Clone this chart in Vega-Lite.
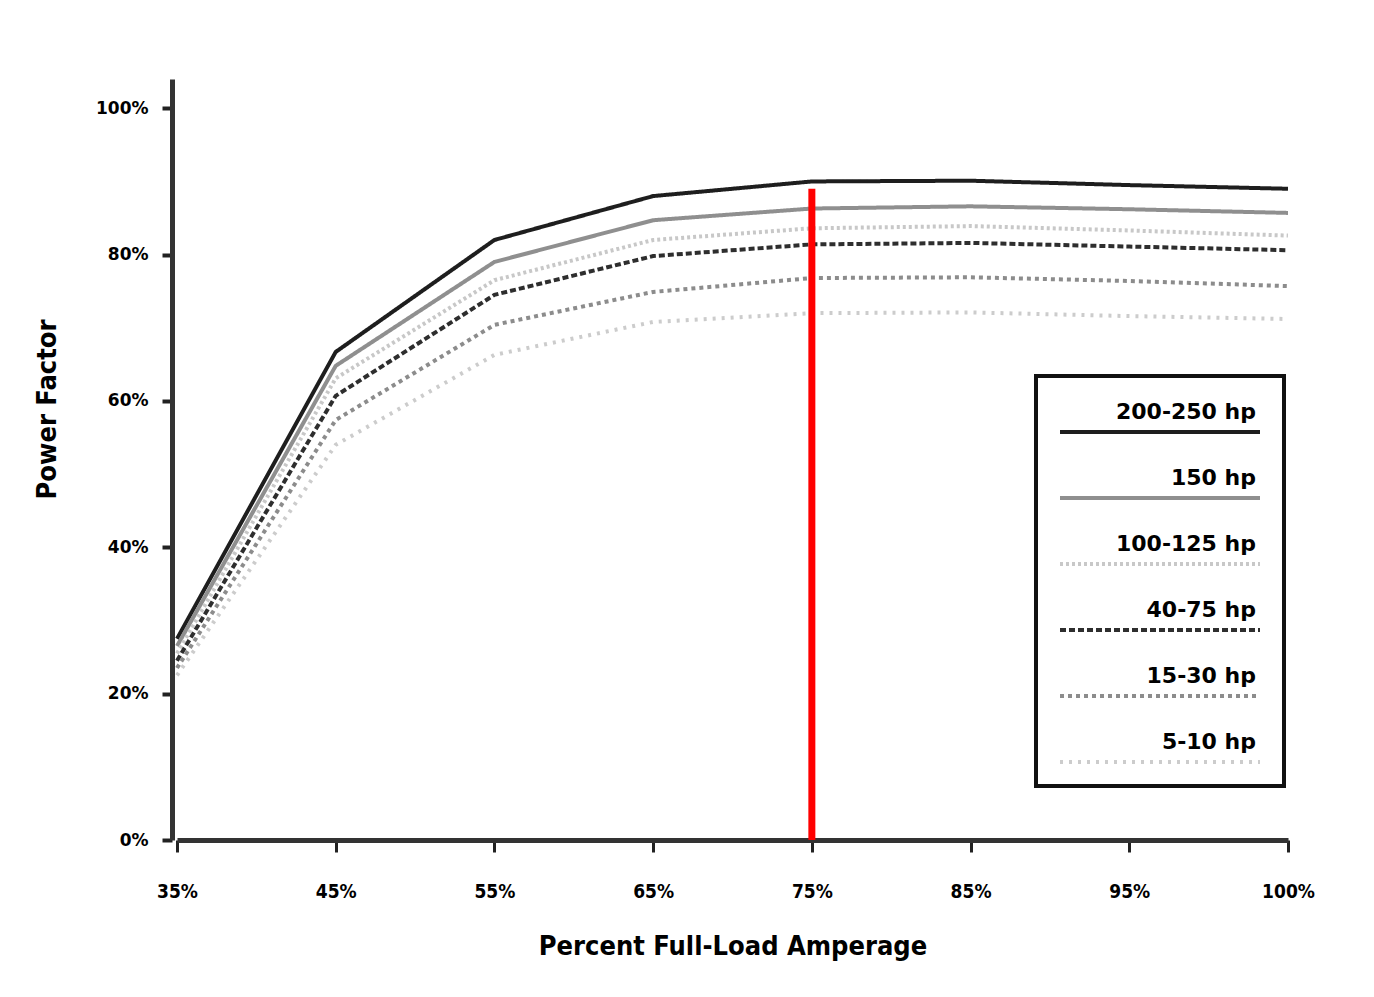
{
  "$schema": "https://vega.github.io/schema/vega-lite/v6.json",
  "autosize": "none",
  "width": 1111,
  "height": 761,
  "padding": {"left": 177, "top": 79, "right": 86, "bottom": 157},
  "background": "white",
  "config": {
    "view": {"stroke": null},
    "axis": {"grid": false}
  },
  "datasets": {
    "curves": [
      {"load": "35%", "motor": "200-250 hp", "pf": 27.5},
      {"load": "45%", "motor": "200-250 hp", "pf": 66.7},
      {"load": "55%", "motor": "200-250 hp", "pf": 82.0},
      {"load": "65%", "motor": "200-250 hp", "pf": 88.0},
      {"load": "75%", "motor": "200-250 hp", "pf": 90.0},
      {"load": "85%", "motor": "200-250 hp", "pf": 90.1},
      {"load": "95%", "motor": "200-250 hp", "pf": 89.5},
      {"load": "100%", "motor": "200-250 hp", "pf": 89.0},
      {"load": "35%", "motor": "150 hp", "pf": 26.5},
      {"load": "45%", "motor": "150 hp", "pf": 64.8},
      {"load": "55%", "motor": "150 hp", "pf": 79.0},
      {"load": "65%", "motor": "150 hp", "pf": 84.7},
      {"load": "75%", "motor": "150 hp", "pf": 86.3},
      {"load": "85%", "motor": "150 hp", "pf": 86.6},
      {"load": "95%", "motor": "150 hp", "pf": 86.2},
      {"load": "100%", "motor": "150 hp", "pf": 85.7},
      {"load": "35%", "motor": "100-125 hp", "pf": 25.5},
      {"load": "45%", "motor": "100-125 hp", "pf": 63.1},
      {"load": "55%", "motor": "100-125 hp", "pf": 76.5},
      {"load": "65%", "motor": "100-125 hp", "pf": 82.0},
      {"load": "75%", "motor": "100-125 hp", "pf": 83.6},
      {"load": "85%", "motor": "100-125 hp", "pf": 83.9},
      {"load": "95%", "motor": "100-125 hp", "pf": 83.3},
      {"load": "100%", "motor": "100-125 hp", "pf": 82.6},
      {"load": "35%", "motor": "40-75 hp", "pf": 24.5},
      {"load": "45%", "motor": "40-75 hp", "pf": 60.7},
      {"load": "55%", "motor": "40-75 hp", "pf": 74.5},
      {"load": "65%", "motor": "40-75 hp", "pf": 79.8},
      {"load": "75%", "motor": "40-75 hp", "pf": 81.4},
      {"load": "85%", "motor": "40-75 hp", "pf": 81.6},
      {"load": "95%", "motor": "40-75 hp", "pf": 81.1},
      {"load": "100%", "motor": "40-75 hp", "pf": 80.6},
      {"load": "35%", "motor": "15-30 hp", "pf": 23.5},
      {"load": "45%", "motor": "15-30 hp", "pf": 57.4},
      {"load": "55%", "motor": "15-30 hp", "pf": 70.4},
      {"load": "65%", "motor": "15-30 hp", "pf": 74.9},
      {"load": "75%", "motor": "15-30 hp", "pf": 76.8},
      {"load": "85%", "motor": "15-30 hp", "pf": 76.9},
      {"load": "95%", "motor": "15-30 hp", "pf": 76.4},
      {"load": "100%", "motor": "15-30 hp", "pf": 75.7},
      {"load": "35%", "motor": "5-10 hp", "pf": 22.5},
      {"load": "45%", "motor": "5-10 hp", "pf": 54.0},
      {"load": "55%", "motor": "5-10 hp", "pf": 66.3},
      {"load": "65%", "motor": "5-10 hp", "pf": 70.8},
      {"load": "75%", "motor": "5-10 hp", "pf": 72.0},
      {"load": "85%", "motor": "5-10 hp", "pf": 72.1},
      {"load": "95%", "motor": "5-10 hp", "pf": 71.6},
      {"load": "100%", "motor": "5-10 hp", "pf": 71.2}
    ],
    "marker": [
      {"load": "75%", "top": 89, "bottom": 0}
    ]
  },
  "layer": [
    {
      "data": {"name": "curves"},
      "mark": {"type": "line", "strokeWidth": 4},
      "encoding": {
        "x": {
          "field": "load",
          "type": "ordinal",
          "scale": {"type": "point", "padding": 0, "domain": ["35%", "45%", "55%", "65%", "75%", "85%", "95%", "100%"]},
          "axis": {
            "title": "Percent Full-Load Amperage",
            "titleFont": "DejaVu Sans Condensed, DejaVu Sans, sans-serif",
            "titleFontSize": 27,
            "titleFontWeight": "bold",
            "titleColor": "black",
            "titlePadding": 32,
            "labelFont": "DejaVu Sans Condensed, DejaVu Sans, sans-serif",
            "labelFontSize": 19,
            "labelFontWeight": "bold",
            "labelColor": "black",
            "labelAngle": 0,
            "labelPadding": 30,
            "domainColor": "#333",
            "domainWidth": 5,
            "tickColor": "#222",
            "tickWidth": 3,
            "tickSize": 12
          }
        },
        "y": {
          "field": "pf",
          "type": "quantitative",
          "scale": {"domain": [0, 104], "nice": false},
          "axis": {
            "title": "Power Factor",
            "titleFont": "DejaVu Sans Condensed, DejaVu Sans, sans-serif",
            "titleFontSize": 27,
            "titleFontWeight": "bold",
            "titleColor": "black",
            "titlePadding": 34,
            "titleY": 330,
            "values": [0, 20, 40, 60, 80, 100],
            "labelExpr": "datum.value + '%'",
            "labelFont": "DejaVu Sans, sans-serif",
            "labelFontSize": 17,
            "labelFontWeight": "bold",
            "labelColor": "black",
            "labelPadding": 14,
            "offset": 5,
            "domainColor": "#333",
            "domainWidth": 5,
            "tickColor": "#222",
            "tickWidth": 4,
            "tickSize": 10
          }
        },
        "stroke": {
          "field": "motor",
          "type": "nominal",
          "sort": ["200-250 hp", "150 hp", "100-125 hp", "40-75 hp", "15-30 hp", "5-10 hp"],
          "scale": {
            "domain": ["200-250 hp", "150 hp", "100-125 hp", "40-75 hp", "15-30 hp", "5-10 hp"],
            "range": ["#1e1e1e", "#8f8f8f", "#c8c8c8", "#2e2e2e", "#8c8c8c", "#cccccc"]
          },
          "legend": {
            "title": " ",
            "titleFontSize": 20,
            "titlePadding": 8,
            "orient": "none",
            "legendX": 859,
            "legendY": 297,
            "zindex": 2,
            "fillColor": "white",
            "strokeColor": "#111",
            "padding": 16,
            "rowPadding": 27,
            "symbolType": "M-0.4,0H19.6",
            "symbolSize": 400,
            "symbolStrokeWidth": 4,
            "labelAlign": "right",
            "labelBaseline": "bottom",
            "labelOffset": 180,
            "labelFont": "DejaVu Sans, sans-serif",
            "labelFontSize": 22,
            "labelFontWeight": "bold",
            "labelColor": "black",
            "labelLimit": 300,
            "encode": {
              "legend": {"update": {"strokeWidth": {"value": 4}}},
              "labels": {"update": {"dy": {"value": -8}}}
            }
          }
        },
        "strokeDash": {
          "field": "motor",
          "type": "nominal",
          "scale": {
            "domain": ["200-250 hp", "150 hp", "100-125 hp", "40-75 hp", "15-30 hp", "5-10 hp"],
            "range": [[1, 0], [1, 0], [3, 3], [6, 3], [4, 4], [3, 6]]
          },
          "legend": null
        }
      }
    },
    {
      "data": {"name": "marker"},
      "mark": {"type": "rule", "color": "#ff0000", "strokeWidth": 7},
      "encoding": {
        "x": {"field": "load", "type": "ordinal"},
        "y": {"field": "top", "type": "quantitative"},
        "y2": {"field": "bottom"}
      }
    }
  ]
}
